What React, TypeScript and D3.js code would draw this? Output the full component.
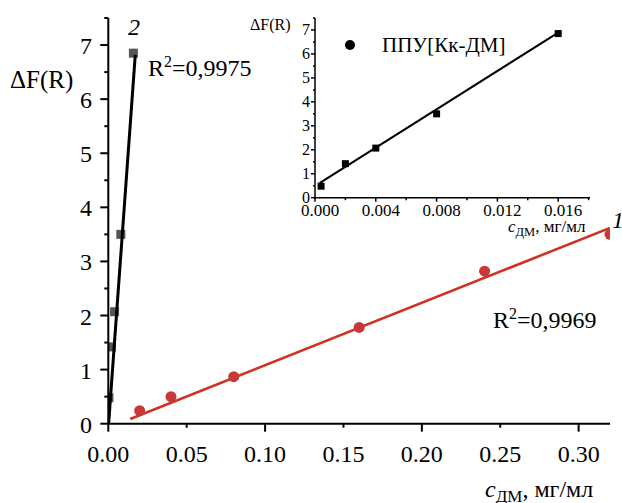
import React from 'react';
import * as d3 from 'd3';

// Series 1 (red circles, main chart)
const series1X = [0.02, 0.04, 0.08, 0.16, 0.24, 0.32];
const series1Y = [0.24, 0.5, 0.87, 1.78, 2.82, 3.5];
const fit1X = [0.014, 0.32];
const fit1Y = [0.087, 3.62];

// Series 2 (squares, ППУ[Кк-ДМ])
const series2X = [0.0004, 0.002, 0.004, 0.008, 0.016];
const series2Y = [0.48, 1.42, 2.07, 3.5, 6.85];
const fit2MainX = [0.0002, 0.0172];
const fit2MainY = [0.0, 6.82];
const fit2InsetX = [0.0003, 0.016];
const fit2InsetY = [0.61, 6.89];

// Ticks
const mainXTicks = [0, 0.05, 0.1, 0.15, 0.2, 0.25, 0.3];
const mainXMajor = [0, 0.1, 0.2, 0.3];
const mainYTicks = [0, 1, 2, 3, 4, 5, 6, 7];
const mainYMinor = [0.5, 1.5, 2.5, 3.5, 4.5, 5.5, 6.5, 7.5];
const insetXTicks = [0, 0.004, 0.008, 0.012, 0.016];
const insetXMinor = [0.002, 0.006, 0.01, 0.014, 0.018];
const insetYTicks = [0, 1, 2, 3, 4, 5, 6, 7];
const insetYMinor = [0.5, 1.5, 2.5, 3.5, 4.5, 5.5, 6.5, 7.5];

const FONT = 'Liberation Serif, Times New Roman, Times, serif';

export default function App() {
  const W = 622, H = 503;
  const x = d3.scaleLinear().domain([0, 0.32]).range([108.3, 610]);
  const y = d3.scaleLinear().domain([0, 7.5]).range([423.7, 18]);
  const ix = d3.scaleLinear().domain([0, 0.018]).range([315, 588.6]);
  const iy = d3.scaleLinear().domain([0, 7.5]).range([197.7, 18]);

  const line = d3.line<[number, number]>();
  const fit1 = line(fit1X.map((v, i) => [x(v), y(fit1Y[i])]));
  const fit2 = line(fit2MainX.map((v, i) => [x(v), y(fit2MainY[i])]));
  const fit2i = line(fit2InsetX.map((v, i) => [ix(v), iy(fit2InsetY[i])]));
  const fmt2 = d3.format('.2f');
  const fmt3 = d3.format('.3f');

  return (
    <svg width={W} height={H} style={{ position: 'absolute', left: 0, top: 0, background: '#fff', fontFamily: FONT }}>
      <defs>
        <clipPath id="mainClip">
          <rect x={109} y={0} width={501} height={424} />
        </clipPath>
      </defs>

      {/* ===== Main chart ===== */}
      <g clipPath="url(#mainClip)">
        <path d={fit1 || ''} stroke="#cc3322" strokeWidth={2.6} fill="none" />
        {series1X.map((v, i) => (
          <circle key={'c' + i} cx={x(v)} cy={y(series1Y[i])} r={5.5} fill="#c83838" />
        ))}
        {series2X.map((v, i) => (
          <rect key={'s' + i} x={x(v) - 4.5} y={y(series2Y[i]) - 4.5} width={9} height={9} fill="#555" />
        ))}
        <path d={fit2 || ''} stroke="#000" strokeWidth={3} fill="none" />
      </g>

      {/* axes */}
      <line x1={x(0)} x2={x(0)} y1={y(0) + 1} y2={y(7.5)} stroke="#000" strokeWidth={2} />
      <line x1={x(0) - 1} x2={610} y1={y(0)} y2={y(0)} stroke="#000" strokeWidth={2} />
      {mainYTicks.map((t) => (
        <g key={'my' + t}>
          <line x1={x(0) - 8} x2={x(0)} y1={y(t)} y2={y(t)} stroke="#000" strokeWidth={2} />
          <text x={92} y={y(t) + 9} fontSize={24} textAnchor="end">{t}</text>
        </g>
      ))}
      {mainYMinor.map((t) => (
        <line key={'mym' + t} x1={x(0) - 4} x2={x(0)} y1={y(t)} y2={y(t)} stroke="#000" strokeWidth={2} />
      ))}
      {mainXTicks.map((t) => (
        <g key={'mx' + t}>
          <line x1={x(t)} x2={x(t)} y1={y(0)} y2={y(0) + (mainXMajor.includes(t) ? 8 : 4)} stroke="#000" strokeWidth={2} />
          <text x={x(t)} y={461.5} fontSize={24} textAnchor="middle">{fmt2(t)}</text>
        </g>
      ))}

      {/* main labels */}
      <text x={10} y={88} fontSize={25}>ΔF(R)</text>
      <text x={485} y={497} fontSize={24}>
        <tspan fontStyle="italic">c</tspan>
        <tspan fontSize={17} dy={5}>ДМ</tspan>
        <tspan dy={-5}>, мг/мл</tspan>
      </text>
      <text x={128} y={35} fontSize={24} fontStyle="italic">2</text>
      <text x={148} y={76} fontSize={24}>
        R<tspan fontSize={16} dy={-9}>2</tspan><tspan dy={9}>=0,9975</tspan>
      </text>
      <text x={612} y={228} fontSize={24} fontStyle="italic">1</text>
      <text x={493} y={328} fontSize={24}>
        R<tspan fontSize={16} dy={-9}>2</tspan><tspan dy={9}>=0,9969</tspan>
      </text>

      {/* ===== Inset ===== */}
      <path d={fit2i || ''} stroke="#000" strokeWidth={2} fill="none" />
      {series2X.map((v, i) => (
        <rect key={'is' + i} x={ix(v) - 3.5} y={iy(series2Y[i]) - 3.5} width={7} height={7} fill="#000" />
      ))}
      <line x1={ix(0)} x2={ix(0)} y1={iy(0) + 1} y2={iy(7.5)} stroke="#000" strokeWidth={1.5} />
      <line x1={ix(0) - 1} x2={590} y1={iy(0)} y2={iy(0)} stroke="#000" strokeWidth={1.5} />
      {insetYTicks.map((t) => (
        <g key={'iy' + t}>
          <line x1={ix(0) - 4} x2={ix(0)} y1={iy(t)} y2={iy(t)} stroke="#000" strokeWidth={1.5} />
          <text x={310} y={iy(t) + 5.5} fontSize={16} textAnchor="end">{t}</text>
        </g>
      ))}
      {insetYMinor.map((t) => (
        <line key={'iym' + t} x1={ix(0) - 2} x2={ix(0)} y1={iy(t)} y2={iy(t)} stroke="#000" strokeWidth={1.5} />
      ))}
      {insetXTicks.map((t) => (
        <g key={'ix' + t}>
          <line x1={ix(t)} x2={ix(t)} y1={iy(0)} y2={iy(0) + 4} stroke="#000" strokeWidth={1.5} />
          <text x={ix(t) + 5} y={216} fontSize={17} textAnchor="middle">{fmt3(t)}</text>
        </g>
      ))}
      {insetXMinor.map((t) => (
        <line key={'ixm' + t} x1={ix(t)} x2={ix(t)} y1={iy(0)} y2={iy(0) + 2.5} stroke="#000" strokeWidth={1.5} />
      ))}
      <text x={250} y={30} fontSize={16}>ΔF(R)</text>
      <text x={508} y={231.5} fontSize={17}>
        <tspan fontStyle="italic">c</tspan>
        <tspan fontSize={12.5} dy={4}>ДМ</tspan>
        <tspan dy={-4}>, мг/мл</tspan>
      </text>
      {/* legend */}
      <circle cx={350} cy={45} r={5} fill="#000" />
      <text x={382} y={51.5} fontSize={21}>ППУ[Кк-ДМ]</text>
    </svg>
  );
}
